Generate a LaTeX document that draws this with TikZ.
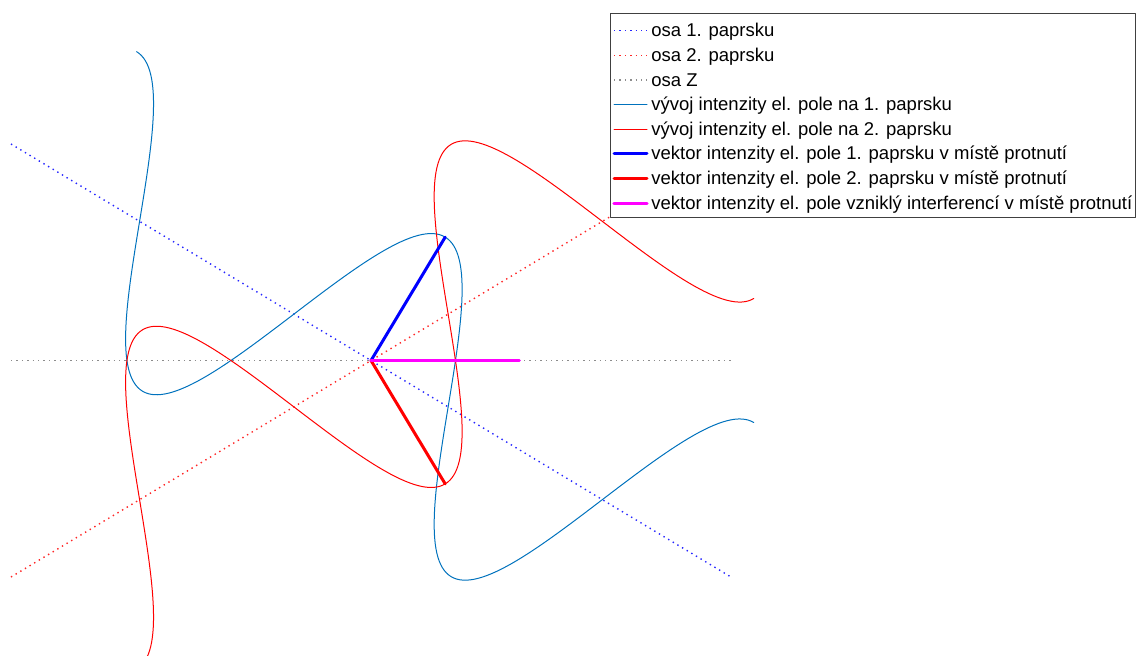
\documentclass[tikz,border=0pt]{standalone}
\usepackage{fontspec}
\setmainfont{Liberation Sans}
\usepackage{tikz}
\definecolor{mblue}{rgb}{0,0.447,0.741}
\definecolor{mred}{rgb}{1,0,0}
\definecolor{mmag}{rgb}{1,0,1}
\definecolor{dotgray}{HTML}{8C8C8C}
\tikzset{
  every picture/.style={font=\fontsize{9.25}{11}\selectfont, line join=round, line cap=round},
  osa/.style={line width=0.7pt, line cap=butt, dash pattern=on 0.7pt off 2pt},
  ax1/.style={osa, blue!85},
  ax2/.style={osa, mred!85},
  axz/.style={osa, dotgray},
  wave1/.style={line width=0.5pt, mblue},
  wave2/.style={line width=0.5pt, mred},
  vec1/.style={line width=1.5pt, blue},
  vec2/.style={line width=1.5pt, mred},
  vecsum/.style={line width=1.6pt, mmag},
}

\begin{document}
\begin{tikzpicture}[x=0.5pt,y=-0.5pt]
\useasboundingbox (0,0) rectangle (1137,655);
\clip (0,0) rectangle (1137,655);
\coordinate (O) at (371,360.5);
\coordinate (a1) at (11,144); \coordinate (b1) at (731,577);
\coordinate (a2) at (11,577); \coordinate (b2) at (731,144);
\coordinate (az) at (11,360.5); \coordinate (bz) at (731,360.5);
\draw[ax1] (a1) -- (b1);
\draw[ax2] (a2) -- (b2);
\draw[axz] (az) -- (bz);
\draw[wave1,domain=-360:360,samples=241,variable=\t] plot ({371+\t*cos(31)+144*cos(\t)*sin(31)},{360.5+\t*sin(31)-144*cos(\t)*cos(31)});
\draw[wave2,domain=-360:360,samples=241,variable=\t] plot ({371+\t*cos(31)+144*cos(\t)*sin(31)},{360.5-\t*sin(31)+144*cos(\t)*cos(31)});
\coordinate (E1) at (445.2,237.1);
\coordinate (E2) at (445.2,483.9);
\coordinate (E) at (519.3,360.5);
\draw[vec1] (O) -- (E1);
\draw[vec2] (O) -- (E2);
\draw[vecsum] (O) -- (E);
\draw[fill=white,draw=black!75,line width=0.5pt] (610,13) rectangle (1135.5,217.5);
\foreach \st/\tx [count=\i] in {ax1/osa 1. paprsku, ax2/osa 2. paprsku, axz/osa Z,
  wave1/vývoj intenzity el. pole na 1. paprsku, wave2/vývoj intenzity el. pole na 2. paprsku,
  vec1/vektor intenzity el. pole 1. paprsku v místě protnutí, vec2/vektor intenzity el. pole 2. paprsku v místě protnutí,
  vecsum/vektor intenzity el. pole vzniklý interferencí v místě protnutí}{
  \node[anchor=base west,inner sep=0] (l\i) at (651,{12.05+24.65*\i}) {\tx};
  \draw[\st] (614,{6.05+24.65*\i}) -- (647,{6.05+24.65*\i});
}
\end{tikzpicture}
\end{document}
